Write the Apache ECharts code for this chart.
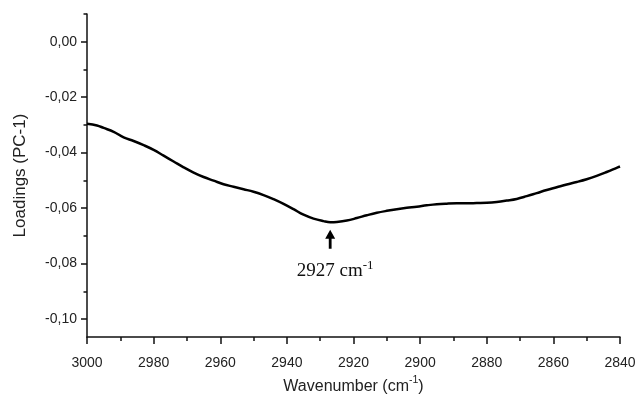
<!DOCTYPE html>
<html>
<head>
<meta charset="utf-8">
<script src="https://cdn.jsdelivr.net/npm/echarts@6/dist/echarts.min.js"></script>
<style>
  html, body { margin: 0; padding: 0; background: #fff; }
  #chart { width: 638px; height: 401px; }
</style>
</head>
<body>
<div id="chart"></div>
<script>
// PC-1 loadings across the C-H stretching region
const wavenumbers = [
  3000, 2997, 2995, 2992, 2989, 2986, 2983, 2980, 2977, 2974,
  2971, 2968, 2965, 2962, 2959, 2956, 2953, 2950, 2947, 2944,
  2941, 2938, 2935, 2932, 2929, 2927, 2925, 2922, 2919, 2916,
  2913, 2910, 2907, 2904, 2901, 2898, 2895, 2892, 2889, 2886,
  2883, 2880, 2877, 2874, 2871, 2868, 2865, 2862, 2859, 2856,
  2853, 2850, 2847, 2844, 2841, 2840
];
const loadings = [
  -0.0296, -0.0302, -0.0311, -0.0325, -0.0345, -0.0358, -0.0373, -0.0390, -0.0411, -0.0432,
  -0.0453, -0.0472, -0.0488, -0.0501, -0.0514, -0.0523, -0.0532, -0.0541, -0.0553, -0.0568,
  -0.0585, -0.0604, -0.0624, -0.0638, -0.0647, -0.0651, -0.0650, -0.0645, -0.0636, -0.0626,
  -0.0617, -0.0610, -0.0604, -0.0599, -0.0595, -0.0590, -0.0586, -0.0584, -0.0583, -0.0583,
  -0.0582, -0.0581, -0.0578, -0.0573, -0.0567, -0.0557, -0.0546, -0.0535, -0.0525, -0.0515,
  -0.0506, -0.0496, -0.0484, -0.0470, -0.0455, -0.0450
];

// y-axis ticks
const yMajorTicks = [0, -0.02, -0.04, -0.06, -0.08, -0.10];
const yMinorTicks = [0.01, -0.01, -0.03, -0.05, -0.07, -0.09];

// annotated band
const peakWavenumber = 2927;
const peakLabel = '2927';

const fontSans = '"Liberation Sans", Arial, sans-serif';
const fontSerif = '"Liberation Serif", "Times New Roman", serif';
const ink = '#111';

const chart = echarts.init(document.getElementById('chart'));

chart.setOption({
  animation: false,
  backgroundColor: '#fff',
  grid: { left: 87, right: 18, top: 14, bottom: 64, outerBoundsMode: 'none' },
  xAxis: {
    type: 'value',
    inverse: true,
    min: 2840,
    max: 3000,
    interval: 20,
    name: '{a|Wavenumber (cm}{s|-1}{a|)}',
    nameLocation: 'middle',
    nameGap: 35,
    nameTextStyle: {
      rich: {
        a: { fontFamily: fontSans, fontSize: 16, color: '#222', verticalAlign: 'bottom', lineHeight: 20 },
        s: { fontFamily: fontSans, fontSize: 10.5, color: '#222', verticalAlign: 'top', lineHeight: 20 }
      }
    },
    axisLine: { show: true, onZero: false, lineStyle: { color: ink, width: 1.5 } },
    axisTick: { show: true, inside: false, length: 7, lineStyle: { color: ink, width: 1.5 } },
    minorTick: { show: true, splitNumber: 2, length: 4, lineStyle: { color: ink, width: 1.5 } },
    axisLabel: {
      fontFamily: fontSans, fontSize: 14, color: '#222', margin: 19,
      formatter: v => String(v)
    },
    splitLine: { show: false },
    minorSplitLine: { show: false }
  },
  yAxis: [
    {
      type: 'value',
      min: -0.1065,
      max: 0.01,
      position: 'left',
      name: 'Loadings (PC-1)',
      nameLocation: 'middle',
      nameGap: 58,
      nameTextStyle: { fontFamily: fontSans, fontSize: 17, color: '#222' },
      axisLine: { show: true, onZero: false, lineStyle: { color: ink, width: 1.5 } },
      axisTick: {
        show: true, inside: false, length: 6,
        customValues: yMajorTicks,
        lineStyle: { color: ink, width: 1.5 }
      },
      axisLabel: {
        fontFamily: fontSans, fontSize: 14, color: '#222', margin: 10,
        customValues: yMajorTicks,
        formatter: v => (Math.abs(v) < 1e-9 ? 0 : v).toFixed(2).replace('.', ',')
      },
      splitLine: { show: false }
    },
    {
      // minor ticks between the labelled values
      type: 'value',
      min: -0.1065,
      max: 0.01,
      position: 'left',
      offset: 0,
      axisLine: { show: false, onZero: false },
      axisTick: {
        show: true, inside: false, length: 3.5,
        customValues: yMinorTicks,
        lineStyle: { color: ink, width: 1.5 }
      },
      axisLabel: { show: false },
      splitLine: { show: false }
    }
  ],
  series: [
    {
      type: 'line',
      data: wavenumbers.map((w, i) => [w, loadings[i]]),
      showSymbol: false,
      smooth: 0.4,
      lineStyle: { color: '#000', width: 2.5 },
      z: 3,
      markPoint: {
        silent: true,
        data: [
          {
            // arrow pointing up at the band minimum
            coord: [peakWavenumber, -0.0678],
            symbol: 'path://M5,0 L10,9 L6.4,9 L6.4,19 L3.6,19 L3.6,9 L0,9 Z',
            symbolSize: [10, 19],
            symbolOffset: [0, '50%'],
            itemStyle: { color: '#000' },
            label: { show: false }
          },
          {
            coord: [peakWavenumber, -0.0823],
            symbol: 'circle',
            symbolSize: 0,
            label: {
              show: true,
              position: 'inside',
              offset: [5, 0],
              formatter: '{a|' + peakLabel + ' cm}{s|-1}',
              rich: {
                a: { fontFamily: fontSerif, fontSize: 19, color: '#111', verticalAlign: 'bottom', lineHeight: 22 },
                s: { fontFamily: fontSerif, fontSize: 13, color: '#111', verticalAlign: 'top', lineHeight: 22 }
              }
            }
          }
        ]
      }
    }
  ]
});
</script>
</body>
</html>
